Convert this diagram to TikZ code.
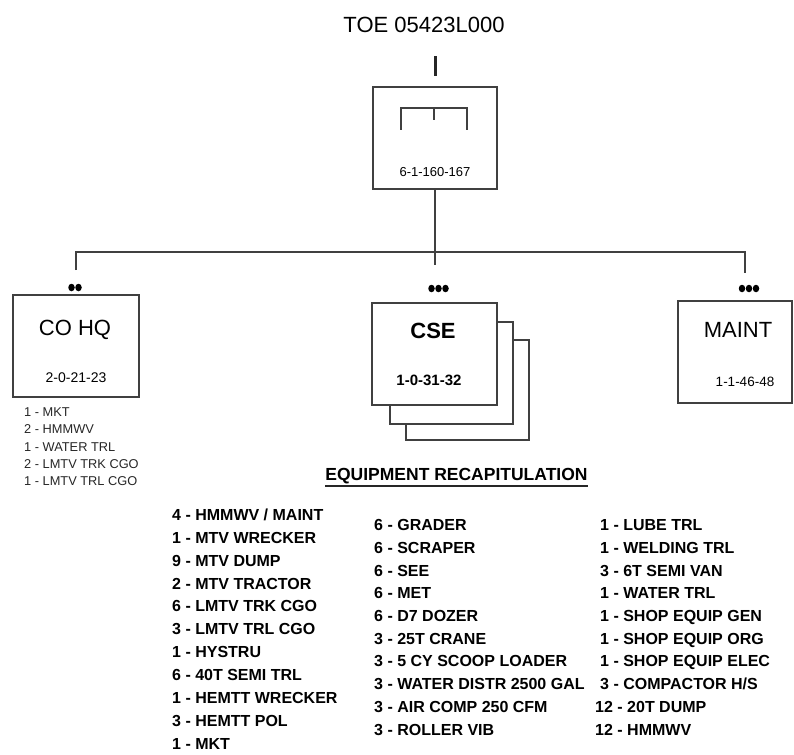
\documentclass[tikz,border=0pt]{standalone}
\usepackage{fontspec}
\usetikzlibrary{shapes.geometric}
\setmainfont{Liberation Sans}
\begin{document}
\begin{tikzpicture}[x=1pt,y=-1pt,
  box/.style={draw=black!75, line width=1.4pt, fill=white, inner sep=0pt, minimum height=102pt},
  conn/.style={draw=black!75, line width=1.3pt},
  title/.style={font=\fontsize{22}{24}\selectfont, inner sep=0pt},
  code/.style={font=\fontsize{14}{16}\selectfont, inner sep=0pt},
  item/.style={font=\bfseries\fontsize{16}{18}\selectfont, inner sep=0pt, anchor=base west},
  small/.style={font=\fontsize{12.8}{14}\selectfont, inner sep=0pt, anchor=base west, text=black!85},
  dot/.style={ellipse, fill=black, inner sep=0pt, minimum width=6.5pt, minimum height=7.5pt}
]
\useasboundingbox (0,0) rectangle (794,754);

% title and echelon bar
\node[title] (toe) at (424,25) {TOE 05423L000};
\node[fill=black!85, inner sep=0pt, minimum width=3pt, minimum height=20pt] (echelon) at (435,66) {};

% top box
\node[box, minimum width=124pt] (hq) at (435,138) {};
\draw[conn, line width=1.6pt] (401,130) -- (401,108) -- (467,108) -- (467,130);
\draw[conn, line width=1.6pt] (434,108) -- (434,120);
\node[code, font=\fontsize{13}{15}\selectfont] (hqcode) at (435,172) {6-1-160-167};

% connectors
\coordinate (hubEnd) at (435,265);
\coordinate (hL) at (76,252);
\coordinate (hR) at (745,252);
\coordinate (dL) at (76,270);
\coordinate (dR) at (745,273);
\draw[conn] (hq.south) -- (hubEnd);
\draw[conn] (dL) -- (hL) -- (hR) -- (dR);

% echelon dots
\node[dot] (co1) at (71.5,287.5) {};
\node[dot] (co2) at (78.5,287.5) {};
\node[dot] (cs1) at (431.5,288.5) {};
\node[dot] (cs2) at (438.5,288.5) {};
\node[dot] (cs3) at (445.5,288.5) {};
\node[dot] (mt1) at (742,288.5) {};
\node[dot] (mt2) at (749,288.5) {};
\node[dot] (mt3) at (756,288.5) {};

% CO HQ
\node[box, minimum width=126pt] (cohq) at (76,346) {};
\node[title] (cohqT) at (75,330) {CO HQ};
\node[code] (cohqC) at (76,378) {2-0-21-23};
\foreach \t [count=\i] in {1 - MKT, 2 - HMMWV, 1 - WATER TRL, 2 - LMTV TRK CGO, 1 - LMTV TRL CGO}
  \node[small] (coItem\i) at (24,{416.5+(\i-1)*17.25}) {\t};

% CSE stack
\node[box, minimum width=123pt, minimum height=100pt] (cse3) at (467.5,390) {};
\node[box, minimum width=123pt] (cse2) at (451.5,373) {};
\node[box, minimum width=125pt] (cse1) at (434.5,354) {};
\node[title, font=\bfseries\fontsize{22}{24}\selectfont] (cseT) at (433,331) {CSE};
\node[code, font=\bfseries\fontsize{15}{17}\selectfont] (cseC) at (429,380) {1-0-31-32};

% MAINT
\node[box, minimum width=114pt] (maint) at (735,352) {};
\node[title] (maintT) at (738,330) {MAINT};
\node[code, font=\fontsize{13.5}{15}\selectfont] (maintC) at (745,382) {1-1-46-48};

% equipment recapitulation
\node[font=\bfseries\fontsize{17.5}{20}\selectfont, inner sep=0pt] (recap) at (456.5,476) {EQUIPMENT RECAPITULATION};
\draw[line width=1.3pt, black!85] ([yshift=-5.5pt]recap.base west) -- ([yshift=-5.5pt]recap.base east);

\foreach \t [count=\i] in {4 - HMMWV / MAINT, 1 - MTV WRECKER, 9 - MTV DUMP, 2 - MTV TRACTOR, 6 - LMTV TRK CGO, 3 - LMTV TRL CGO, 1 - HYSTRU, 6 - 40T SEMI TRL, 1 - HEMTT WRECKER, 3 - HEMTT POL, 1 - MKT}
  \node[item] (a\i) at (172,{520.5+(\i-1)*22.85}) {\t};

\foreach \t [count=\i] in {6 - GRADER, 6 - SCRAPER, 6 - SEE, 6 - MET, 6 - D7 DOZER, 3 - 25T CRANE, 3 - 5 CY SCOOP LOADER, 3 - WATER DISTR 2500 GAL, 3 - AIR COMP 250 CFM, 3 - ROLLER VIB}
  \node[item] (b\i) at (374,{530.7+(\i-1)*22.7}) {\t};

\foreach \t [count=\i] in {1 - LUBE TRL, 1 - WELDING TRL, 3 - 6T SEMI VAN, 1 - WATER TRL, 1 - SHOP EQUIP GEN, 1 - SHOP EQUIP ORG, 1 - SHOP EQUIP ELEC, 3 - COMPACTOR H/S}
  \node[item] (c\i) at (600,{530.7+(\i-1)*22.7}) {\t};
\node[item] (c9) at (595,{530.7+8*22.7}) {12 - 20T DUMP};
\node[item] (c10) at (595,{530.7+9*22.7}) {12 - HMMWV};
\end{tikzpicture}
\end{document}
